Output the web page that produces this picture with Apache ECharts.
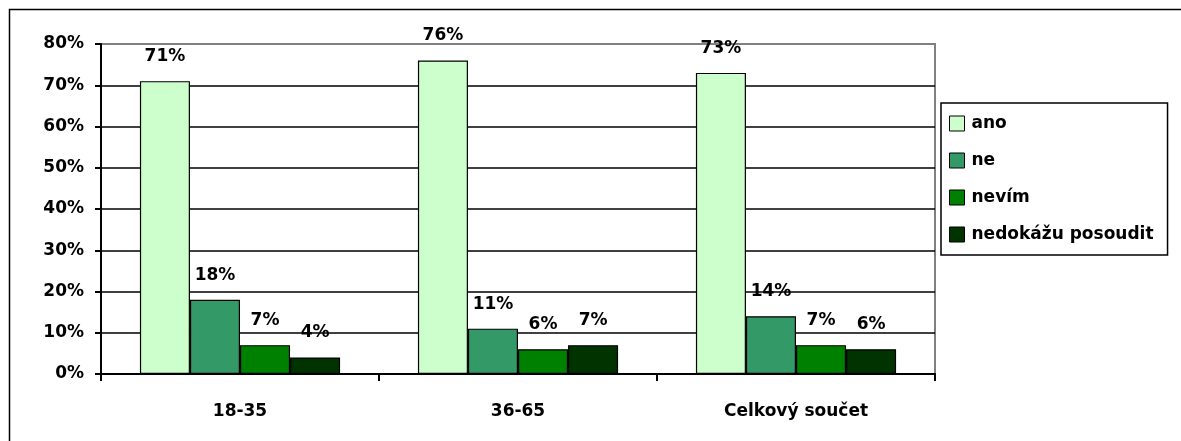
<!DOCTYPE html>
<html>
<head>
<meta charset="utf-8">
<script src="https://cdn.jsdelivr.net/npm/echarts@6/dist/echarts.min.js"></script>
<style>
html,body{margin:0;padding:0;background:#fff;}
#c{width:1181px;height:441px;}
</style>
</head>
<body>
<div id="c"></div>
<script>
const categories = ['18-35', '36-65', 'Celkový součet'];
const seriesNames = ['ano', 'ne', 'nevím', 'nedokážu posoudit'];
const ano = [71, 76, 73];
const ne = [18, 11, 14];
const nevim = [7, 6, 7];
const nedokazu = [4, 7, 6];
const colors = ['#CCFFCC', '#339966', '#008000', '#003300'];
const values = [ano, ne, nevim, nedokazu];

const FONT = '"DejaVu Sans", sans-serif';
const FS = 17;
const chart = echarts.init(document.getElementById('c'), null, {renderer: 'canvas'});

chart.setOption({
  animation: false,
  backgroundColor: '#fff',
  textStyle: {fontFamily: FONT},
  graphic: [{
    type: 'rect',
    shape: {x: 9.5, y: 9.5, width: 1300, height: 600},
    style: {fill: 'none', stroke: '#000', lineWidth: 1.5},
    z: 100, silent: true
  }],
  grid: {
    left: 101, right: 246, top: 44, bottom: 67,
    show: true, borderColor: '#808080', borderWidth: 2, backgroundColor: 'transparent'
  },
  legend: {
    orient: 'vertical',
    left: 941, top: 103,
    padding: [12, 14, 12, 8],
    itemWidth: 15, itemHeight: 15, itemGap: 20,
    borderColor: '#000', borderWidth: 1.5, backgroundColor: '#fff',
    icon: 'rect',
    itemStyle: {borderColor: '#000', borderWidth: 1},
    textStyle: {fontFamily: FONT, fontWeight: 'bold', fontSize: FS, lineHeight: 17, color: '#000', padding: [0, 0, 0, 2]},
    data: seriesNames
  },
  xAxis: {
    type: 'category',
    data: categories,
    axisLine: {lineStyle: {color: '#000', width: 2}},
    axisTick: {show: true, length: 7, lineStyle: {color: '#000', width: 2}},
    axisLabel: {fontFamily: FONT, fontWeight: 'bold', fontSize: FS, color: '#000', margin: 29}
  },
  yAxis: {
    type: 'value',
    min: 0, max: 80, interval: 10,
    axisLine: {show: true, lineStyle: {color: '#000', width: 2}},
    axisTick: {show: true, length: 6, lineStyle: {color: '#000', width: 2}},
    axisLabel: {formatter: '{value}%', fontFamily: FONT, fontWeight: 'bold', fontSize: FS, color: '#000', margin: 17},
    splitLine: {show: true, lineStyle: {color: ['#000','#000','#000','#000','#000','#000','#000','#000','#808080'], width: 1.5}}
  },
  series: seriesNames.map((n, i) => ({
    name: n,
    type: 'bar',
    data: values[i],
    barGap: '0%',
    barCategoryGap: '28%',
    itemStyle: {color: colors[i], borderColor: '#000', borderWidth: 1.2},
    label: {
      show: true, position: 'top', distance: 16,
      formatter: '{c}%',
      fontFamily: FONT, fontWeight: 'bold', fontSize: FS, color: '#000'
    }
  }))
});
</script>
</body>
</html>
